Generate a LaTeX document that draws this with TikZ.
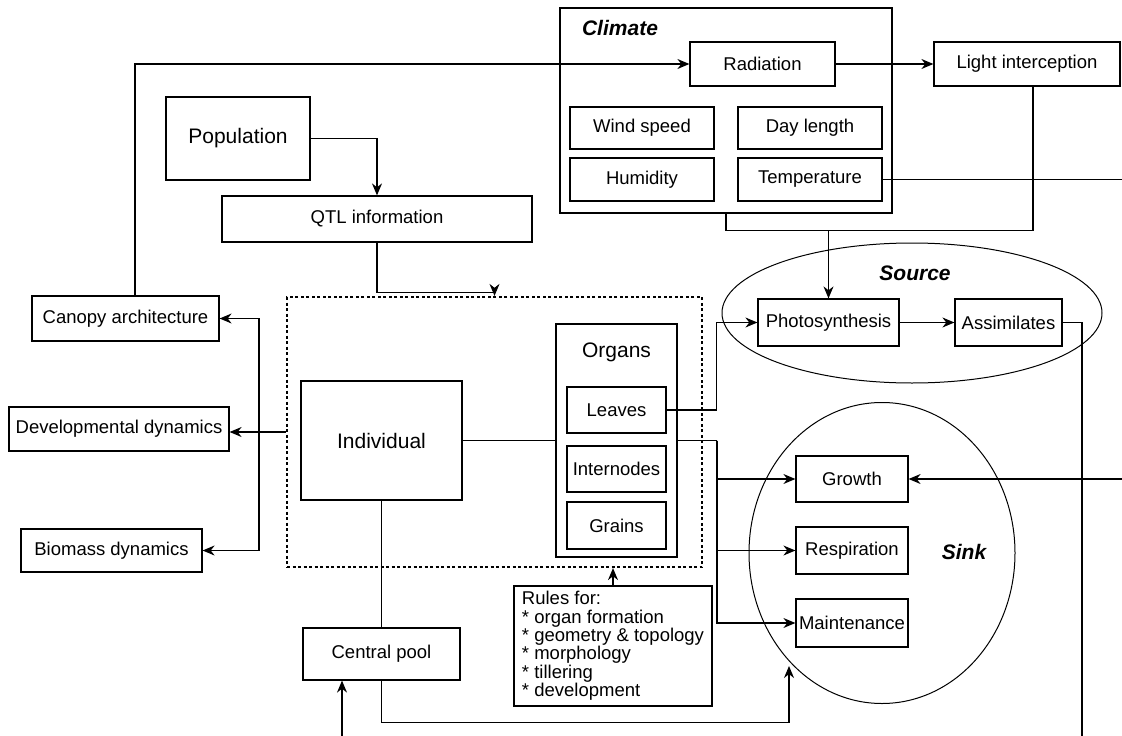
\documentclass[tikz,border=0pt]{standalone}
\usepackage{fontspec}
\setmainfont{Liberation Sans}
\usetikzlibrary{arrows.meta,shapes.geometric}

\begin{document}
\begin{tikzpicture}[x=1pt,y=-1pt,line width=1.2pt,
    box/.style={draw,inner sep=2pt,font=\fontsize{18.5}{18.4}\selectfont},
    bigbox/.style={box,font=\fontsize{21}{24}\selectfont},
    head/.style={font=\fontsize{21}{24}\selectfont\bfseries\itshape},
    arr/.style={-{Stealth[length=12pt,width=10pt]}}]

    \useasboundingbox (0,0) rectangle (1122,736);

    %% climate
    \node[box,minimum width=332,minimum height=205] (climate) at (726,110.5) {};
    \node[head] (climlabel) at (620,28) {Climate};
    \node[box,minimum width=145,minimum height=44] (rad) at (762.5,64) {Radiation};
    \node[box,minimum width=144,minimum height=42] (wind) at (642,128) {Wind speed};
    \node[box,minimum width=144,minimum height=42] (day) at (810,128) {Day length};
    \node[box,minimum width=144,minimum height=43] (hum) at (642,179.5) {Humidity};
    \node[box,minimum width=144,minimum height=43] (temp) at (810,179.5) {Temperature};
    \node[box,minimum width=186,minimum height=44] (light) at (1027,64) {Light interception};

    %% population side
    \node[bigbox,minimum width=144,minimum height=83] (pop) at (238,138.5) {Population};
    \node[box,minimum width=310,minimum height=46] (qtl) at (377,219) {QTL information};
    \node[box,minimum width=187,minimum height=45] (canopy) at (125.5,318.5) {Canopy architecture};
    \node[box,minimum width=220,minimum height=44] (devel) at (119,429) {Developmental dynamics};
    \node[box,minimum width=181,minimum height=43] (biomass) at (111.5,550.5) {Biomass dynamics};

    %% plant
    \node[draw,line width=2.2pt,dash pattern=on 3pt off 2.5pt,minimum width=415,minimum height=270] (plant) at (494.5,432) {};
    \node[bigbox,minimum width=161,minimum height=119] (indiv) at (381.5,440.5) {Individual};
    \node[box,minimum width=121,minimum height=233] (organs) at (616.5,440.5) {};
    \node[font=\fontsize{21}{24}\selectfont] (orglabel) at (616.5,352) {Organs};
    \node[box,minimum width=99,minimum height=46] (leaves) at (616.5,410) {Leaves};
    \node[box,minimum width=99,minimum height=46] (intern) at (616.5,469) {Internodes};
    \node[box,minimum width=99,minimum height=47] (grains) at (616.5,525.5) {Grains};
    \node[box,align=left,minimum width=198,minimum height=120] (rules) at (613,646)
        {Rules for:\\* organ formation\\* geometry \& topology\\* morphology\\* tillering\\* development};
    \node[box,minimum width=157,minimum height=52] (pool) at (381.5,654) {Central pool};

    %% source and sink
    \node[draw,ellipse,line width=1pt,minimum width=380,minimum height=140] (source) at (912,313) {};
    \node[head] (srclabel) at (915,273) {Source};
    \node[box,minimum width=141,minimum height=47] (photo) at (828.5,322.5) {Photosynthesis};
    \node[box,minimum width=107,minimum height=47] (assim) at (1008.5,322.5) {Assimilates};
    \node[draw,ellipse,line width=1pt,minimum width=266,minimum height=301] (sink) at (882,553) {};
    \node[head] (sinklabel) at (964,552) {Sink};
    \node[box,minimum width=112,minimum height=46] (growth) at (852,479) {Growth};
    \node[box,minimum width=112,minimum height=47] (resp) at (852,550.5) {Respiration};
    \node[box,minimum width=112,minimum height=48] (maint) at (852,623) {Maintenance};

    %% loose ends
    \coordinate (tempend) at (1122,179.5);
    \coordinate (assimend) at (1082,736);
    \coordinate (growin) at (1122,479);
    \coordinate (poolin) at (342,736);
    \coordinate (sinkin) at (789,666);
    \coordinate (split) at (259,432);
    \coordinate (og) at (717,440.5);

    %% connectors
    \draw[arr] ([xshift=9.5pt]canopy.north) |- (rad.west);
    \draw[arr] (rad) -- (light);
    \draw (temp.east) -- (tempend);
    \draw (climate.south) -- ++(0,17) -| ([xshift=6pt]light.south);
    \draw[arr] (photo.north |- 0,230) -- (photo.north);
    \draw[arr] (photo) -- (assim);
    \draw (assim.east) -| (assimend);
    \draw[arr] (pop.east) -| (qtl.north);
    \draw[arr] (qtl.south) -- ++(0,50) -| (plant.north);
    \draw[arr] (plant.west) -- (plant.west -| devel.east);
    \draw[arr] (split) |- (canopy.east);
    \draw[arr] (split) |- (biomass.east);
    \draw (indiv) -- (organs);
    \draw[arr] (leaves.east) -- ++(50,0) |- (photo.west);
    \draw (organs.east) -- (og);
    \foreach \s in {growth,resp,maint}{
        \draw[arr] (og) |- (\s.west);
    }
    \draw[arr] (rules.north) -- (rules.north |- plant.south);
    \draw (indiv) -- (pool);
    \draw[arr] (poolin) -- (poolin |- pool.south);
    \draw[arr] (pool.south) -- ++(0,42) -| (sinkin);
    \draw[arr] (growin) -- (growth.east);
\end{tikzpicture}
\end{document}
